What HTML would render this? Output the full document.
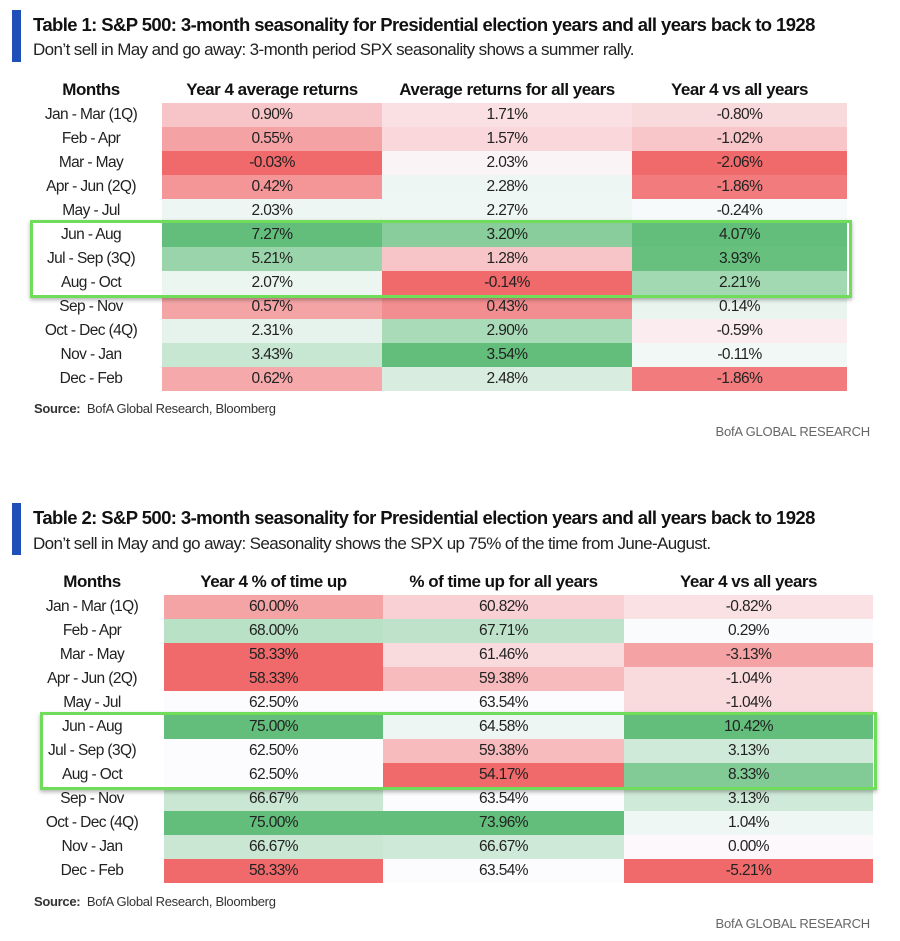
<!DOCTYPE html>
<html><head><meta charset="utf-8">
<style>
body{margin:0;width:900px;height:941px;background:#fff;font-family:"Liberation Sans",sans-serif;color:#222;position:relative;overflow:hidden}
.abs{position:absolute;white-space:nowrap}
.bar{background:#1f4fb8;width:9px}
.title{font-weight:bold;font-size:18.5px;letter-spacing:-0.6px;color:#111}
.sub{font-size:17px;letter-spacing:-0.6px;color:#222}
.hdr{font-weight:bold;font-size:17px;letter-spacing:-0.5px;text-align:center;color:#111}
.cell{font-size:15.5px;letter-spacing:-0.6px;text-align:center;line-height:24px;height:24px;color:#222}
.src{font-size:13px;letter-spacing:-0.3px;color:#333}
.brand{font-size:13px;color:#666;letter-spacing:-0.2px}
.box{border:3px solid #6fdc5a;box-shadow:0 2px 4px rgba(0,0,0,0.3);box-sizing:border-box}
</style></head><body>
<div class="abs bar" style="left:12px;top:10px;height:52px"></div>
<div class="abs title" style="left:33px;top:14px">Table 1: S&amp;P 500: 3-month seasonality for Presidential election years and all years back to 1928</div>
<div class="abs sub" style="left:33px;top:40px">Don’t sell in May and go away: 3-month period SPX seasonality shows a summer rally.</div>
<div id="t1"></div>
<div class="abs src" style="left:34px;top:401px"><b>Source:</b>&nbsp; BofA Global Research, Bloomberg</div>
<div class="abs brand" style="right:30px;top:424px">BofA GLOBAL RESEARCH</div>

<div class="abs bar" style="left:12px;top:503px;height:52px"></div>
<div class="abs title" style="left:33px;top:507px">Table 2: S&amp;P 500: 3-month seasonality for Presidential election years and all years back to 1928</div>
<div class="abs sub" style="left:33px;top:534px">Don’t sell in May and go away: Seasonality shows the SPX up 75% of the time from June-August.</div>
<div id="t2"></div>
<div class="abs src" style="left:34px;top:894px"><b>Source:</b>&nbsp; BofA Global Research, Bloomberg</div>
<div class="abs brand" style="right:30px;top:916px">BofA GLOBAL RESEARCH</div>

<script>
const months = ["Jan - Mar (1Q)","Feb - Apr","Mar - May","Apr - Jun (2Q)","May - Jul","Jun - Aug","Jul - Sep (3Q)","Aug - Oct","Sep - Nov","Oct - Dec (4Q)","Nov - Jan","Dec - Feb"];
const t1Headers = ["Months","Year 4 average returns","Average returns for all years","Year 4 vs all years"];
const t1Year4 = [0.90,0.55,-0.03,0.42,2.03,7.27,5.21,2.07,0.57,2.31,3.43,0.62];
const t1All = [1.71,1.57,2.03,2.28,2.27,3.20,1.28,-0.14,0.43,2.90,3.54,2.48];
const t1Diff = [-0.80,-1.02,-2.06,-1.86,-0.24,4.07,3.93,2.21,0.14,-0.59,-0.11,-1.86];
const t2Headers = ["Months","Year 4 % of time up","% of time up for all years","Year 4 vs all years"];
const t2Year4 = [60.00,68.00,58.33,58.33,62.50,75.00,62.50,62.50,66.67,75.00,66.67,58.33];
const t2All = [60.82,67.71,61.46,59.38,63.54,64.58,59.38,54.17,63.54,73.96,66.67,63.54];
const t2Diff = [-0.82,0.29,-3.13,-1.04,-1.04,10.42,3.13,8.33,3.13,1.04,0.00,-5.21];

const RED=[240,105,107], WHITE=[252,252,255], GREEN=[99,190,123];
function mix(a,b,t){return 'rgb('+a.map((v,i)=>Math.round(v+(b[i]-v)*t)).join(',')+')';}
function colorScale(vals){
  const s=[...vals].sort((a,b)=>a-b);
  const mn=s[0], mx=s[s.length-1], med=(s[5]+s[6])/2;
  return v=> v<=med ? mix(RED,WHITE,(v-mn)/((med-mn)||1)) : mix(WHITE,GREEN,(v-med)/((mx-med)||1));
}
function build(host, headers, cols, colX, top, hdrTop, boxTop, boxX, boxW, prefix){
  const rowH=24;
  headers.forEach((h,i)=>{
    const d=document.createElement('div');
    d.className='abs hdr';
    
    
    d.style.left=colX[i]+'px'; d.style.width=(colX[i+1]-colX[i])+'px'; d.style.top=hdrTop+'px';
    d.textContent=h; host.appendChild(d);
  });
  months.forEach((m,r)=>{
    const d=document.createElement('div');
    d.className='abs cell';
    
    
    d.style.left=colX[0]+'px'; d.style.width=(colX[1]-colX[0])+'px'; d.style.top=(top+r*rowH)+'px';
    d.textContent=m; host.appendChild(d);
  });
  cols.forEach((vals,c)=>{
    const sc=colorScale(vals);
    vals.forEach((v,r)=>{
      const d=document.createElement('div');
      d.className='abs cell';
      
      
      d.style.left=colX[c+1]+'px'; d.style.width=(colX[c+2]-colX[c+1])+'px';
      d.style.top=(top+r*rowH)+'px'; d.style.background=sc(v);
      d.textContent=v.toFixed(2)+'%'; host.appendChild(d);
    });
  });
  const b=document.createElement('div');
  b.className='abs box';
  
  
  b.style.left=boxX+'px'; b.style.top=boxTop+'px'; b.style.width=boxW+'px'; b.style.height=(3*rowH+6)+'px';
  host.appendChild(b);
}
build(document.getElementById('t1'), t1Headers, [t1Year4,t1All,t1Diff], [20,162,382,632,847], 103, 80, 220, 30, 822, 't1');
build(document.getElementById('t2'), t2Headers, [t2Year4,t2All,t2Diff], [20,164,383,624,873], 595, 572, 712, 40, 837, 't2');
</script>
</body></html>
